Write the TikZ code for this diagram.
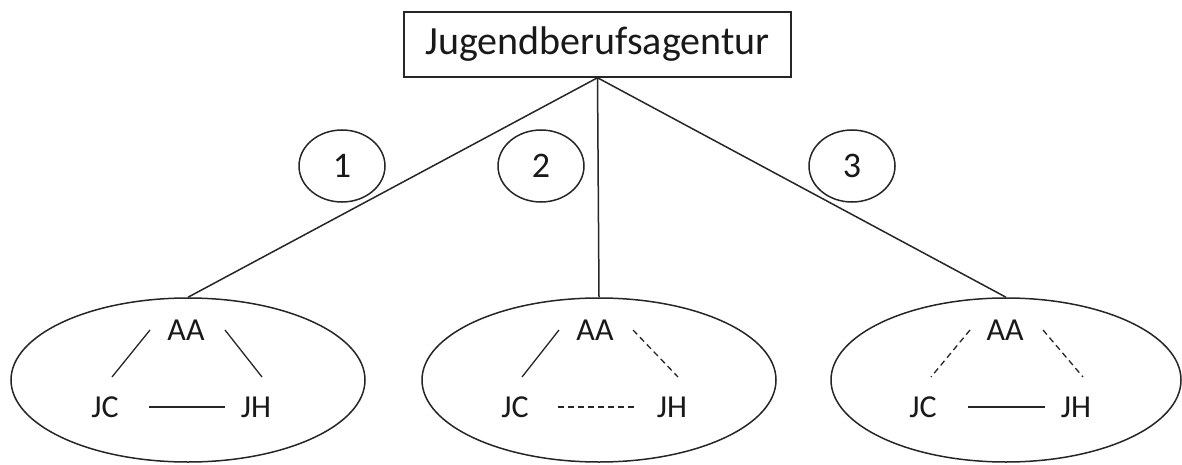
\documentclass[tikz,border=0pt]{standalone}
\usepackage{fontspec}
\setmainfont{Carlito}
\usetikzlibrary{shapes.geometric,calc}
\begin{document}
\begin{tikzpicture}[x=1pt,y=-1pt,
  ink/.style={draw=black!85, line width=1.5pt},
  titlebox/.style={ink, rectangle, minimum width=387pt, minimum height=65pt, inner sep=0pt, font=\fontsize{40}{40}\selectfont, text=black!90},
  grp/.style={ink, ellipse, minimum width=354pt, minimum height=164pt, inner sep=0pt},
  num/.style={ink, ellipse, minimum width=86pt, minimum height=72pt, inner sep=0pt, font=\fontsize{36}{36}\selectfont, text=black!90},
  lbl/.style={inner sep=0pt, font=\fontsize{32}{32}\selectfont, text=black!90},
  link/.style={draw=black!85, line width=1.5pt},
  rel/.style={draw=black!85, line width=1.3pt},
  weak/.style={rel, dash pattern=on 6pt off 4pt}]
\useasboundingbox (0,0) rectangle (1182,465);

% top box
\node[titlebox] (jba) at (597.5,44.5) {Jugendberufsagentur};

% groups
\node[grp] (g1) at (188,380) {};
\node[grp] (g2) at (599,380) {};
\node[grp, minimum width=350pt] (g3) at (1006,380) {};

% connectors
\draw[link] (jba.south) -- (g1.north);
\draw[link] (jba.south) -- (g2.north);
\draw[link] (jba.south) -- (g3.north);

% numbers
\node[num] (n1) at (342,166) {1};
\node[num] (n2) at (541,166) {2};
\node[num] (n3) at (852,166) {3};

% group 1
\node[lbl] (aa1) at (186,330) {AA};
\node[lbl] (jc1) at (105,407) {JC};
\node[lbl] (jh1) at (256,407) {JH};
\coordinate (a1l) at (150,330); \coordinate (c1t) at (112,377);
\coordinate (a1r) at (225,330); \coordinate (h1t) at (262,377);
\coordinate (c1r) at (149,407); \coordinate (h1l) at (225,407);
\draw[rel] (a1l) -- (c1t);
\draw[rel] (a1r) -- (h1t);
\draw[rel] (c1r) -- (h1l);

% group 2
\node[lbl] (aa2) at (595,330) {AA};
\node[lbl] (jc2) at (515,407) {JC};
\node[lbl] (jh2) at (672,407) {JH};
\coordinate (a2l) at (559,330); \coordinate (c2t) at (522,377);
\coordinate (a2r) at (633,330); \coordinate (h2t) at (678,377);
\coordinate (c2r) at (558,407); \coordinate (h2l) at (637,407);
\draw[rel] (a2l) -- (c2t);
\draw[weak] (a2r) -- (h2t);
\draw[weak] (c2r) -- (h2l);

% group 3
\node[lbl] (aa3) at (1005,330) {AA};
\node[lbl] (jc3) at (923,407) {JC};
\node[lbl] (jh3) at (1076,407) {JH};
\coordinate (a3l) at (970,330); \coordinate (c3t) at (931,377);
\coordinate (a3r) at (1043,330); \coordinate (h3t) at (1083,377);
\coordinate (c3r) at (968,407); \coordinate (h3l) at (1045,407);
\draw[weak] (a3l) -- (c3t);
\draw[weak] (a3r) -- (h3t);
\draw[rel] (c3r) -- (h3l);
\end{tikzpicture}
\end{document}
